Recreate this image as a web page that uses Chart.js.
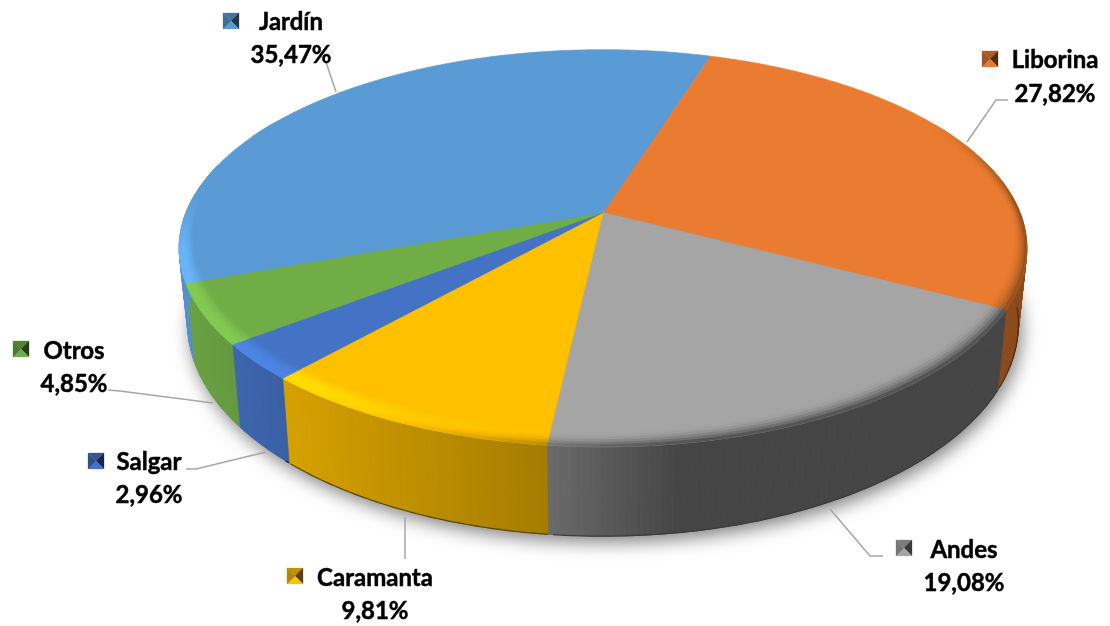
<!DOCTYPE html>
<html>
<head>
<meta charset="utf-8">
<title>Pie</title>
<script src="https://cdn.jsdelivr.net/npm/chart.js@4"></script>
<style>
body { margin: 0; background: #fff; }
</style>
</head>
<body>
<canvas id="pie" width="1110" height="626"></canvas>
<script>
// data, clockwise starting at the Liborina slice
const categories = ['Liborina', 'Andes', 'Caramanta', 'Salgar', 'Otros', 'Jardín'];
const shares = [27.82, 19.08, 9.81, 2.96, 4.85, 35.47];
const colors = ['#E97C30', '#A5A5A5', '#FFC000', '#4472C4', '#70AD47', '#5B9BD5'];

// where the labels sit: marker corner, text centre, y of both lines
const labelSpots = [
    { mx: 982, my: 51, tx: 1055, y1: 60, y2: 94 },
    { mx: 896, my: 540, tx: 964, y1: 550, y2: 583 },
    { mx: 287, my: 568, tx: 375, y1: 578, y2: 611 },
    { mx: 88, my: 453, tx: 149, y1: 462, y2: 495 },
    { mx: 13, my: 341, tx: 74, y1: 351, y2: 384 },
    { mx: 223, my: 13, tx: 291, y1: 22, y2: 55 }
];
const leaders = [
    [[1008, 100], [996, 100], [967, 142]],
    [[883, 556], [870, 556], [830, 509]],
    [[405, 517], [405, 559]],
    [[186, 469], [196, 469], [266, 452]],
    [[108, 390], [120, 391], [213, 403]],
    [[326, 62], [336, 92]]
];

// 3d look: circle of the pie goes through a simple perspective
const TILT = 0.18;
const WIDE = 1.962;
const FLAT = 0.904;
const DEPTH = 0.345;
const STEP = 0.012;

function project(arc, angle, r, lower) {
    const u = Math.cos(angle) * r;
    const v = Math.sin(angle) * r;
    const den = 1 - TILT * v;
    const R = arc.outerRadius;
    return {
        x: arc.x + (lower ? 0.98 : 1) * WIDE * R * u / den,
        y: arc.y + (FLAT * R * v + (lower ? DEPTH * R : 0)) / den,
        v: v
    };
}

function toRgb(hex) {
    return [1, 3, 5].map(i => parseInt(hex.substr(i, 2), 16));
}

function css(c) {
    return 'rgb(' + c.map(n => Math.max(0, Math.min(255, Math.round(n)))).join(',') + ')';
}

function mix(a, b, t) {
    return a.map((n, i) => n + (b[i] - n) * t);
}

function clamp(n) {
    return Math.max(0, Math.min(1, n));
}

// wall brightness by x position
function wallShade(x, floor) {
    const stops = [[180, 0.95], [290, 0.84], [548, 0.65], [680, 0.42], [1030, 0.42]];
    let m = 0.42;
    for (let i = 0; i < stops.length - 1; i++) {
        if (x >= stops[i][0] && x <= stops[i + 1][0]) {
            const t = (x - stops[i][0]) / (stops[i + 1][0] - stops[i][0]);
            m = stops[i][1] + (stops[i + 1][1] - stops[i][1]) * t;
        }
    }
    return Math.max(m, floor);
}

function quad(ctx, a, b, c, d, color) {
    ctx.fillStyle = color;
    ctx.strokeStyle = color;
    ctx.lineWidth = 0.7;
    ctx.beginPath();
    ctx.moveTo(a.x, a.y);
    ctx.lineTo(b.x, b.y);
    ctx.lineTo(c.x, c.y);
    ctx.lineTo(d.x, d.y);
    ctx.closePath();
    ctx.fill();
    ctx.stroke();
}

function drawShadow(ctx, arc) {
    ctx.save();
    ctx.shadowColor = 'rgba(0,0,0,0.5)';
    ctx.shadowBlur = 18;
    ctx.shadowOffsetY = 6;
    ctx.shadowOffsetX = 3;
    ctx.fillStyle = '#888';
    ctx.beginPath();
    for (let a = 0; a < Math.PI * 2; a += STEP) {
        const p = project(arc, a, 1, true);
        ctx.lineTo(p.x, p.y);
    }
    ctx.closePath();
    ctx.fill();
    ctx.restore();
}

function drawWall(ctx, arc, rgb, floor) {
    for (let a = arc.startAngle; a < arc.endAngle; a += STEP) {
        const b = Math.min(a + STEP, arc.endAngle);
        const t1 = project(arc, a, 1, false);
        if (t1.v < -0.25) continue; // far side is hidden by the face anyway
        const t2 = project(arc, b, 1, false);
        const l1 = project(arc, a, 1, true);
        const l2 = project(arc, b, 1, true);
        const m = wallShade(l1.x, floor);
        quad(ctx, t1, t2, l2, l1, css(rgb.map(n => n * m)));
    }
    // thin dark line along the foot of the wall, only on the front
    ctx.strokeStyle = css(rgb.map(n => n * 0.35));
    ctx.lineWidth = 1.2;
    ctx.beginPath();
    for (let a = arc.startAngle; a < arc.endAngle; a += STEP) {
        const p = project(arc, a, 1, true);
        if (p.v > 0.1 && p.x > 285) ctx.lineTo(p.x, p.y);
    }
    ctx.stroke();
}

function drawFace(ctx, arc, rgb) {
    const color = css(rgb);
    ctx.fillStyle = color;
    ctx.strokeStyle = color;
    ctx.lineWidth = 0.7;
    ctx.beginPath();
    ctx.moveTo(arc.x, arc.y);
    for (let a = arc.startAngle; a < arc.endAngle; a += STEP) {
        const p = project(arc, a, 1, false);
        ctx.lineTo(p.x, p.y);
    }
    const last = project(arc, arc.endAngle, 1, false);
    ctx.lineTo(last.x, last.y);
    ctx.closePath();
    ctx.fill();
    ctx.stroke();
}

// band width in radius units, narrower at the far left and right
function bandWidth(angle) {
    return 0.05 * Math.abs(Math.sin(angle)) + 0.024 * Math.abs(Math.cos(angle));
}

// soft rounded edge between face and wall
function drawBevel(ctx, arc, rgb, floor) {
    const rings = 6;
    for (let a = arc.startAngle; a < arc.endAngle; a += STEP) {
        const b = Math.min(a + STEP, arc.endAngle);
        const rim = project(arc, a, 1, false);
        const s = clamp((rim.v + 0.5) / 0.45);
        const glow = clamp((620 - rim.x) / 300) * clamp((rim.v + 0.1) / 0.3);
        // left of the middle the band only gets lighter, it does not sink to the wall colour
        const sink = s * clamp((rim.x - 250) / 300);
        if (sink <= 0 && glow <= 0) continue;
        const wall = rgb.map(n => n * wallShade(rim.x, floor));
        const wa = bandWidth(a);
        const wb = bandWidth(b);
        for (let k = 0; k < rings; k++) {
            const t1 = k / rings;
            const t2 = (k + 1) / rings;
            const t = (k + 0.5) / rings;
            let c = mix(rgb, wall, sink * t * t);
            const lift = 1 + 0.17 * glow * Math.sin(Math.PI * t * 0.62);
            c = c.map(n => n * lift);
            quad(ctx,
                project(arc, a, 1 - wa * (1 - t1)), project(arc, b, 1 - wb * (1 - t1)),
                project(arc, b, 1 - wb * (1 - t2)), project(arc, a, 1 - wa * (1 - t2)), css(c));
        }
    }
}

function drawMarker(ctx, x, y, rgb) {
    const size = 16;
    const cx = x + size / 2;
    const cy = y + size / 2;
    const corners = [[x, y], [x + size, y], [x + size, y + size], [x, y + size]];
    const light = [0.75, 0.35, 1.0, 0.7]; // top, right, bottom, left
    corners.forEach(function(c, i) {
        const n = corners[(i + 1) % 4];
        const color = css(rgb.map(v => v * light[i]));
        ctx.fillStyle = color;
        ctx.strokeStyle = color;
        ctx.lineWidth = 0.3;
        ctx.beginPath();
        ctx.moveTo(c[0], c[1]);
        ctx.lineTo(n[0], n[1]);
        ctx.lineTo(cx, cy);
        ctx.closePath();
        ctx.fill();
        ctx.stroke();
    });
}

function drawLabels(ctx) {
    ctx.strokeStyle = '#A6A6A6';
    ctx.lineWidth = 1.5;
    leaders.forEach(function(line) {
        ctx.beginPath();
        line.forEach(p => ctx.lineTo(p[0], p[1]));
        ctx.stroke();
    });
    ctx.textAlign = 'center';
    ctx.textBaseline = 'middle';
    categories.forEach(function(name, i) {
        const spot = labelSpots[i];
        const value = shares[i].toFixed(2).replace('.', ',') + '%';
        drawMarker(ctx, spot.mx, spot.my, toRgb(colors[i]));
        ctx.fillStyle = '#000';
        ctx.strokeStyle = '#000';
        ctx.lineWidth = 0.5;
        ctx.font = 'bold 24px Lato';
        ctx.fillText(name, spot.tx, spot.y1);
        ctx.strokeText(name, spot.tx, spot.y1);
        ctx.fillText(value, spot.tx, spot.y2);
        ctx.strokeText(value, spot.tx, spot.y2);
    });
}

const pie3d = {
    id: 'pie3d',
    beforeDatasetsDraw: function(chart) {
        const ctx = chart.ctx;
        const arcs = chart.getDatasetMeta(0).data;
        const floors = [0.6, 0.42, 0.42, 0.42, 0.42, 0.42];
        drawShadow(ctx, arcs[0]);
        arcs.forEach((arc, i) => drawWall(ctx, arc, toRgb(colors[i]), floors[i]));
        arcs.forEach((arc, i) => drawFace(ctx, arc, toRgb(colors[i])));
        arcs.forEach((arc, i) => drawBevel(ctx, arc, toRgb(colors[i]), floors[i]));
        return false; // the flat arcs are replaced by the tilted ones
    },
    afterDraw: function(chart) {
        drawLabels(chart.ctx);
    }
};

new Chart(document.getElementById('pie').getContext('2d'), {
    type: 'pie',
    data: {
        labels: categories,
        datasets: [{ data: shares, backgroundColor: colors, borderWidth: 0 }]
    },
    options: {
        responsive: false,
        animation: false,
        rotation: 17.5,
        layout: { padding: { left: 96, bottom: 201 } },
        plugins: { legend: { display: false }, tooltip: { enabled: false } }
    },
    plugins: [pie3d]
});
</script>
</body>
</html>
